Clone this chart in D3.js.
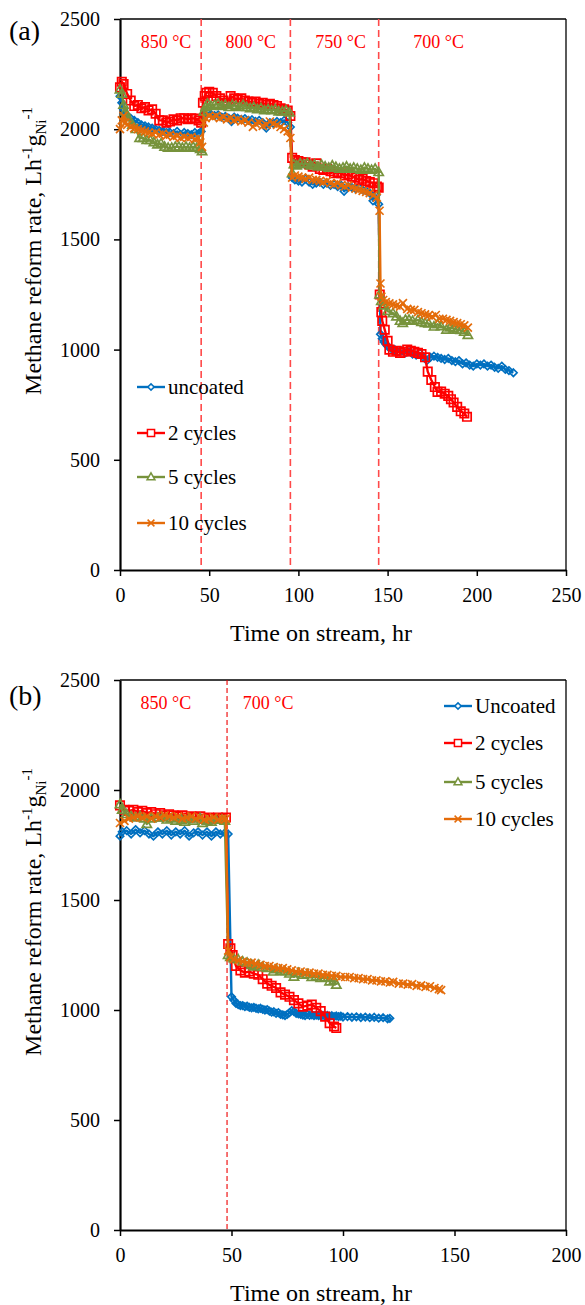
<!DOCTYPE html>
<html><head><meta charset="utf-8">
<script src="https://cdn.jsdelivr.net/npm/d3@7"></script>
<style>body{margin:0;background:#fff}svg{display:block}svg text{font-family:"Liberation Serif","Times New Roman",serif !important}</style>
</head><body>
<script>
// ---------------- DATA ----------------
const seriesNames = ["uncoated", "2 cycles", "5 cycles", "10 cycles"];
const seriesNamesB = ["Uncoated", "2 cycles", "5 cycles", "10 cycles"];
const xTicksA = [0, 50, 100, 150, 200, 250];
const xTicksB = [0, 50, 100, 150, 200];
const yTicks = [0, 500, 1000, 1500, 2000, 2500];
const boundariesA = [45.5, 95.5, 145];
const boundariesB = [48];
const tempLabelsA = ["850 °C", "800 °C", "750 °C", "700 °C"];
const tempLabelCentersA = [25.8, 73.3, 123.7, 178.6];
const tempLabelsB = ["850 °C", "700 °C"];
const tempLabelCentersB = [20.6, 66.4];

// Panel (a): [time hr, rate]
const a_uncoated = [[0,2150],[1,2120],[2,2090],[3,2070],[4,2060],[6,2050],[8,2040],[10,2030],[12,2020],[14,2015],[16,2010],[18,2005],[20,2000],[22,1995],[24,1990],[26,2000],[28,1985],[30,1980],[32,1990],[34,1975],[36,1985],[38,1980],[40,1975],[42,1985],[44,1980],[45.5,1990],
 [46.5,2060],[47,2070],[49,2075],[51,2068],[53,2062],[55,2065],[57,2055],[59,2058],[61,2050],[62.5,2035],[64,2055],[66,2050],[68,2045],[70,2048],[72,2040],[74,2043],[76,2035],[78,2040],[80,2030],[82,2005],[84,2030],[86,2025],[88,2035],[90,2030],[92,2040],[94,2030],[95.5,2010],
 [96.5,1780],[98,1770],[100,1765],[102,1760],[104,1775],[106,1760],[108,1750],[110,1755],[112,1760],[114,1750],[116,1755],[118,1745],[120,1750],[122,1740],[124,1745],[125.6,1718],[128,1740],[130,1735],[132,1730],[134,1735],[136,1725],[138,1720],[140,1710],[141.8,1675],[143.5,1700],[145,1660],
 [146,1070],[147,1050],[148,1035],[149,1025],[150,1015],[152,1005],[154,1000],[156,990],[158,995],[160,985],[162,990],[164,980],[166,975],[168,985],[170,965],[172,950],[174,965],[176,970],[178,965],[180,960],[182,955],[184,960],[186,950],[188,945],[190,950],[192,935],[194,940],[196,930],[198,925],[200,935],[202,930],[204,935],[206,925],[208,930],[210,920],[212,915],[214,925],[216,910],[218,905],[220.5,895]];
const a_2cycles = [[0,2190],[1,2215],[2,2205],[4,2160],[6,2130],[8,2105],[10,2110],[12,2095],[14,2100],[16,2085],[18,2090],[20,2070],[22,2040],[24,2040],[26,2030],[28,2035],[30,2045],[32,2040],[34,2050],[36,2050],[38,2045],[40,2050],[42,2048],[44,2040],[45.5,2030],
 [46.5,2120],[47.5,2150],[48.5,2165],[50,2170],[52,2165],[54,2150],[56,2140],[58,2130],[60,2120],[62,2150],[64,2140],[66,2135],[68,2140],[70,2130],[72,2125],[74,2120],[76,2125],[78,2115],[80,2120],[82,2110],[84,2115],[86,2110],[88,2105],[90,2095],[92,2090],[94,2085],[95.5,2060],
 [96.5,1870],[98,1860],[100,1855],[102,1850],[104,1850],[106,1840],[108,1830],[110,1845],[112,1820],[114,1815],[116,1820],[118,1810],[120,1800],[122,1805],[124,1800],[126,1790],[128,1795],[130,1785],[132,1780],[134,1770],[136,1775],[138,1765],[140,1760],[142,1755],[144,1740],[145,1735],
 [145.6,1250],[146.5,1170],[147,1130],[148.4,1090],[150,1040],[151,1000],[153,990],[155,995],[157,985],[159,990],[161,1000],[163,995],[165,990],[167,985],[169,980],[171,965],[172.5,900],[174.5,862],[176.5,830],[178,808],[180,810],[182,800],[184,790],[185.5,775],[187,760],[189,740],[191,720],[193,710],[194.5,695]];
const a_5cycles = [[0,2180],[1,2160],[2,2110],[3,2080],[4,2060],[5,2040],[7,2020],[9,2000],[11,1960],[13,1960],[15,1950],[17,1950],[19,1940],[21,1930],[23,1935],[25,1920],[27,1915],[29,1915],[31,1920],[33,1920],[35,1915],[37,1920],[39,1915],[41,1920],[43,1915],[45,1910],[46,1900],
 [47,2080],[48,2100],[49,2115],[51,2105],[53,2110],[55,2115],[57,2105],[59,2110],[61,2100],[63,2110],[65,2105],[67,2100],[69,2110],[71,2100],[73,2095],[75,2100],[77,2090],[79,2095],[81,2085],[83,2090],[85,2085],[87,2090],[89,2080],[91,2080],[93,2085],[95,2075],
 [96.5,1800],[97.5,1840],[99,1835],[101,1845],[103,1840],[105,1845],[107,1835],[109,1840],[111,1830],[113,1838],[115,1830],[117,1825],[119,1835],[121,1828],[123,1820],[125,1825],[127,1830],[129,1820],[131,1825],[133,1820],[135,1815],[137,1825],[139,1820],[141,1815],[143,1820],[145,1805],
 [145.5,1250],[146.5,1220],[148,1200],[150,1175],[153,1165],[155,1150],[157,1130],[158.5,1120],[160,1135],[162,1135],[164,1130],[167,1134],[169,1125],[171,1120],[173,1118],[176,1104],[178,1115],[180,1105],[183,1090],[185,1100],[187,1095],[189,1090],[191,1088],[193,1080],[195,1066]];
const a_10cycles = [[0,2000],[1,2040],[2,2060],[3,2030],[4,2020],[6,2010],[8,2005],[10,2000],[12,1995],[14,1990],[16,1985],[18,1980],[20,1985],[22,1975],[24,1980],[26,1970],[28,1975],[30,1965],[32,1970],[34,1960],[36,1965],[38,1960],[40,1965],[42,1955],[44,1960],[45,1940],[46,1920],
 [47,2030],[48,2050],[50,2060],[52,2055],[54,2060],[56,2050],[58,2055],[60,2045],[62,2050],[64,2040],[66,2045],[68,2035],[70,2040],[72,2030],[74.5,2011],[76,2025],[78,2030],[80,2015],[82,2020],[84,2035],[86,2025],[88,2020],[90,2010],[92,2000],[94,1990],[95.5,1960],
 [96.5,1780],[98,1790],[100,1785],[102,1780],[104,1775],[106,1780],[108,1770],[110,1770],[112,1765],[114,1760],[116,1765],[118,1755],[120,1750],[122,1755],[124,1745],[126,1740],[128,1745],[130,1735],[132,1730],[134,1725],[136,1720],[138,1715],[140,1710],[142,1700],[144,1690],[145.5,1630],
 [146,1300],[146.5,1240],[147.5,1225],[149,1215],[151,1210],[153,1205],[155,1200],[157,1195],[158.6,1211],[161,1185],[163,1180],[165,1180],[167,1170],[169,1165],[171,1160],[173,1155],[175,1150],[177,1157],[179,1140],[181,1140],[183,1135],[185,1130],[187,1125],[189,1120],[191,1115],[193,1110],[195,1100]];

// Panel (b)
const b_uncoated = [[0,1790],[1,1810],[3,1815],[5,1800],[7,1820],[9,1805],[11,1815],[13,1800],[15,1790],[17,1810],[19,1800],[21,1815],[23,1795],[25,1810],[27,1800],[29,1815],[31,1790],[33,1805],[35,1810],[37,1795],[39,1810],[41,1790],[43,1810],[45,1800],[47,1805],[48.5,1800],
 [50,1060],[51,1045],[52,1030],[53,1025],[54,1020],[55,1020],[56,1015],[57,1018],[58,1012],[59,1010],[60,1012],[61,1008],[62,1005],[63,1008],[64,1003],[65,1000],[66,1002],[67,995],[68,990],[69,992],[70,985],[71,988],[72,980],[73,978],[74,975],[75,980],[76,988],[77,997],[78,993],[79,985],[80,982],[81,980],[82,977],[83,975],[84,980],[85,976],[86,978],[87,974],[88,977],[89,975],[90,973],[91,976],[92,972],[93,975],[94,971],[95,974],[96,970],[97,973],[98,970],[99,972],[100,968],[102,970],[104,967],[106,969],[108,966],[110,968],[112,965],[114,967],[116,963],[118,965],[120,960],[121,962]];
const b_2cycles = [[0,1930],[2,1910],[4,1905],[6,1910],[8,1900],[10,1905],[12,1895],[14,1900],[16,1890],[18,1895],[20,1885],[22,1890],[24,1885],[26,1880],[28,1885],[30,1875],[32,1880],[34,1875],[36,1880],[38,1870],[40,1875],[42,1870],[44,1875],[46,1870],[47.5,1875],
 [48.5,1300],[49.5,1280],[50.5,1250],[52,1200],[54,1180],[56,1170],[58,1175],[60,1165],[62,1160],[64,1140],[66,1120],[68,1110],[70,1100],[72,1080],[74,1070],[76,1060],[78,1045],[80,1030],[82,1015],[84,1020],[86,1025],[88,1010],[90,995],[92,970],[94,940],[96,925],[97,918]];
const b_5cycles = [[0,1935],[1,1910],[3,1890],[5,1880],[7,1875],[9,1880],[11,1870],[12,1845],[14,1870],[17,1875],[19,1875],[21,1865],[23,1870],[25,1860],[27.6,1864],[29,1855],[31,1870],[33,1860],[35.9,1871],[37,1850],[39,1860],[41,1855],[43,1865],[45.7,1864],[47,1860],
 [48.5,1250],[49.5,1240],[51,1235],[53,1230],[55,1220],[57,1215],[59,1205],[60,1197],[62,1205],[64,1195],[66,1190],[68.7,1174],[70,1185],[72,1178],[74,1175],[76,1165],[78,1151],[80,1168],[82,1160],[84,1162],[86,1150],[88,1152],[90,1145],[92,1148],[94,1129],[96,1135],[97,1114]];
const b_10cycles = [[0,1850],[2,1860],[4,1870],[6,1875],[8,1880],[10,1875],[12,1880],[14,1870],[16,1880],[18,1875],[20,1885],[22,1880],[24,1875],[26,1880],[28,1870],[30,1875],[32,1880],[34,1870],[36,1875],[38,1865],[40,1870],[42,1875],[44,1865],[46,1870],[47.5,1870],
 [48.5,1270],[49.5,1240],[51,1230],[53,1225],[55,1220],[57,1215],[59,1215],[61,1210],[63,1205],[65,1200],[67,1200],[69,1195],[71,1190],[73,1190],[75,1185],[77,1180],[79,1175],[81,1175],[83,1170],[85,1170],[87,1165],[89,1165],[91,1160],[93,1160],[95,1155],[97,1155],[99,1150],[101,1150],[103,1150],[105,1145],[107,1145],[109,1140],[111,1140],[113,1135],[115,1135],[117,1130],[119,1130],[121,1125],[122.5,1128],[125,1120],[127,1120],[129,1115],[131,1118],[133,1110],[135,1112],[137,1105],[139,1108],[141,1100],[143,1095],[144,1090]];

// ---------------- STYLE ----------------
const colors = ["#0070C0", "#FF0000", "#77933C", "#E46C0A"];
const markers = ["diamond", "square", "triangle", "cross"];
const FONT = '"Liberation Serif", "Times New Roman", serif';

const W = 585, H = 1305;
const svg = d3.select("body").append("svg").attr("width", W).attr("height", H);

function markerPath(type, s) {
  switch (type) {
    case "diamond": return `M0,${-s}L${s},0L0,${s}L${-s},0Z`;
    case "square": return `M${-s},${-s}H${s}V${s}H${-s}Z`;
    case "triangle": return `M0,${-s*1.1}L${s*1.05},${s*0.75}H${-s*1.05}Z`;
    case "cross": return `M${-s},${-s}L${s},${s}M${s},${-s}L${-s},${s}`;
  }
}
const markerSize = {diamond: 3.7, square: 4.2, triangle: 4.4, cross: 4.0};

function drawPanel(cfg) {
  const x = d3.scaleLinear().domain(cfg.xDomain).range([120, 566]);
  const y = d3.scaleLinear().domain([0, 2500]).range([cfg.yBottom, cfg.yTop]);
  const g = svg.append("g");

  // frame
  g.append("line").attr("x1", 120).attr("x2", 566).attr("y1", cfg.yTop).attr("y2", cfg.yTop).attr("stroke", "#000").attr("stroke-width", 1.3);
  g.append("line").attr("x1", 566).attr("x2", 566).attr("y1", cfg.yTop).attr("y2", cfg.yBottom).attr("stroke", "#000").attr("stroke-width", 1.3);

  // y axis
  const ya = g.append("g").attr("transform", "translate(120,0)")
    .call(d3.axisLeft(y).tickValues(yTicks).tickFormat(d3.format("d")).tickSize(6).tickSizeOuter(0).tickPadding(14));
  ya.attr("font-family", FONT);
  ya.select(".domain").attr("stroke-width", 2.2);
  ya.selectAll(".tick line").attr("stroke-width", 1.5);
  ya.selectAll("text").attr("font-size", 20).attr("fill", "#000").style("font-family", FONT);

  // x axis
  const xa = g.append("g").attr("transform", `translate(0,${cfg.yBottom})`)
    .call(d3.axisBottom(x).tickValues(cfg.xTicks).tickFormat(d3.format("d")).tickSize(6).tickSizeOuter(0).tickPadding(12));
  xa.attr("font-family", FONT);
  xa.select(".domain").attr("stroke-width", 2.2);
  xa.selectAll(".tick line").attr("stroke-width", 1.5);
  xa.selectAll("text").attr("font-size", 20).attr("fill", "#000").style("font-family", FONT);

  // boundaries
  g.selectAll(".bd").data(cfg.boundaries).join("line")
    .attr("x1", d => x(d)).attr("x2", d => x(d)).attr("y1", cfg.yTop).attr("y2", cfg.yBottom)
    .attr("stroke", cfg.dashColor).attr("stroke-width", cfg.dashWidth).attr("stroke-dasharray", cfg.dash);

  // temp labels
  g.selectAll(".tl").data(cfg.tempLabels).join("text")
    .attr("x", (d, i) => x(cfg.tempCenters[i])).attr("y", cfg.yTop + 29)
    .attr("text-anchor", "middle").attr("font-size", 18).attr("fill", "#FF0000").style("font-family", FONT).text(d => d);

  // series
  const line = d3.line().x(d => x(d[0])).y(d => y(d[1]));
  cfg.series.forEach((data, i) => {
    g.append("path").attr("d", line(data)).attr("fill", "none")
      .attr("stroke", colors[i]).attr("stroke-width", 2.4).attr("stroke-linejoin", "round");
    g.append("g").selectAll("path").data(data).join("path")
      .attr("transform", d => `translate(${x(d[0])},${y(d[1])})`)
      .attr("d", markerPath(markers[i], markerSize[markers[i]]))
      .attr("fill", "none").attr("stroke", colors[i]).attr("stroke-width", 1.7);
  });

  // legend
  cfg.legendY.forEach((ly, i) => {
    const lx = cfg.legendX;
    g.append("line").attr("x1", lx).attr("x2", lx + 28).attr("y1", ly).attr("y2", ly)
      .attr("stroke", colors[i]).attr("stroke-width", 2.4);
    g.append("path").attr("transform", `translate(${lx + 14},${ly})`)
      .attr("d", markerPath(markers[i], markerSize[markers[i]] * 0.85))
      .attr("fill", "#fff").attr("stroke", colors[i]).attr("stroke-width", 1.5);
    g.append("text").attr("x", lx + 31).attr("y", ly + 7).attr("font-size", 21).attr("fill", "#000")
      .style("font-family", FONT).text(cfg.names[i]);
  });

  // panel label
  g.append("text").attr("x", 9).attr("y", cfg.labelY).attr("font-size", 28).attr("fill", "#000")
    .style("font-family", FONT).text(cfg.label);

  // x title
  g.append("text").attr("x", 321).attr("y", cfg.yBottom + 71).attr("text-anchor", "middle")
    .attr("font-size", 24).attr("fill", "#000").style("font-family", FONT).text("Time on stream, hr");

  // y title
  const yt = g.append("text").attr("transform", `translate(41,${cfg.yTop + 232}) rotate(-90)`)
    .attr("text-anchor", "middle").attr("font-size", 24).attr("fill", "#000").style("font-family", FONT);
  yt.append("tspan").text("Methane reform rate, Lh");
  yt.append("tspan").attr("font-size", 15).attr("dy", -9).text("-1");
  yt.append("tspan").attr("dy", 9).text("g");
  yt.append("tspan").attr("font-size", 15).attr("dy", 5).text("Ni");
  yt.append("tspan").attr("font-size", 15).attr("dy", -14).text("-1");
}

drawPanel({
  xDomain: [0, 250], xTicks: xTicksA, yTop: 19, yBottom: 570,
  boundaries: boundariesA, dashColor: "#FF4A4A", dashWidth: 1.6, dash: "7,4",
  tempLabels: tempLabelsA, tempCenters: tempLabelCentersA,
  series: [a_uncoated, a_2cycles, a_5cycles, a_10cycles],
  names: seriesNames, legendX: 137, legendY: [387, 433, 477, 523], label: "(a)", labelY: 40
});
drawPanel({
  xDomain: [0, 200], xTicks: xTicksB, yTop: 680, yBottom: 1230,
  boundaries: boundariesB, dashColor: "#EE0000", dashWidth: 1.1, dash: "5,3",
  tempLabels: tempLabelsB, tempCenters: tempLabelCentersB,
  series: [b_uncoated, b_2cycles, b_5cycles, b_10cycles],
  names: seriesNamesB, legendX: 444, legendY: [706, 743, 782, 819], label: "(b)", labelY: 705
});
</script>
</body></html>
